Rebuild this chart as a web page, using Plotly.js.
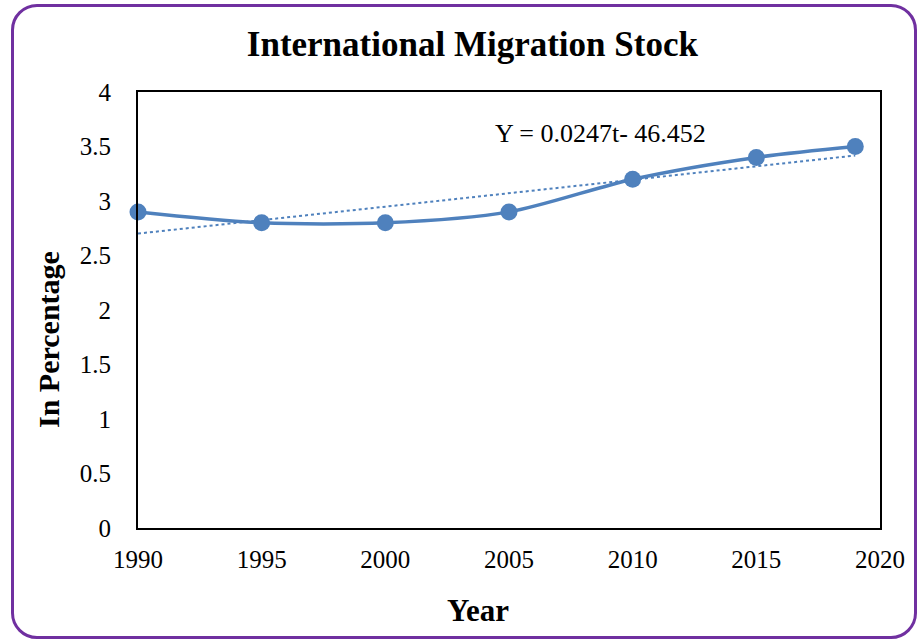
<!DOCTYPE html>
<html>
<head>
<meta charset="utf-8">
<script src="https://cdn.plot.ly/plotly-3.0.1.min.js"></script>
<style>
html,body{margin:0;padding:0;background:#fff;}
#wrap{position:relative;width:919px;height:640px;}
#chart{position:absolute;left:0;top:0;width:919px;height:640px;}
#frame{position:absolute;left:11px;top:4px;width:900px;height:629px;border:3px solid #7030A0;border-radius:26px;pointer-events:none;}
</style>
</head>
<body>
<div id="wrap"><div id="chart"></div><div id="frame"></div></div>
<script>
const years = [1990, 1995, 2000, 2005, 2010, 2015, 2019];
const stock = [2.9, 2.8, 2.8, 2.9, 3.2, 3.4, 3.5];
const slope = 0.0247;
const intercept = -46.452;
const trendYears = [1990, 2019];
const trendVals = trendYears.map(t => slope * t + intercept);
const xTicks = [1990, 1995, 2000, 2005, 2010, 2015, 2020];
const yTicks = [0, 0.5, 1, 1.5, 2, 2.5, 3, 3.5, 4];

const serif = "Liberation Serif, Times New Roman, serif";
const blue = "#4F81BD";

const traces = [
  {x: trendYears, y: trendVals, mode: "lines", line: {color: blue, width: 2, dash: "dot"}, hoverinfo: "skip", cliponaxis: false},
  {x: years, y: stock, mode: "lines+markers", line: {color: blue, width: 3.5, shape: "spline", smoothing: 0.8},
   marker: {color: blue, size: 17}, cliponaxis: false}
];

const layout = {
  width: 919, height: 640,
  margin: {l: 138, r: 39, t: 92, b: 112},
  paper_bgcolor: "rgba(0,0,0,0)", plot_bgcolor: "#fff",
  showlegend: false,
  font: {family: serif, color: "#000", size: 25},
  title: {text: "<b>International Migration Stock</b>", font: {family: serif, size: 35, color: "#000"}, x: 0.514, xanchor: "center", y: 0.932, yanchor: "middle"},
  xaxis: {range: [1990, 2020], tickvals: xTicks, ticktext: xTicks.map(String), showgrid: false, zeroline: false,
    showline: true, linecolor: "#000", linewidth: 2, mirror: true, ticks: "outside", ticklen: 8, tickcolor: "rgba(0,0,0,0)",
    tickfont: {family: serif, size: 25}},
  yaxis: {range: [0, 4], tickvals: yTicks, ticktext: yTicks.map(String), showgrid: false, zeroline: false,
    showline: true, linecolor: "#000", linewidth: 2, mirror: true, ticks: "outside", ticklen: 20, tickcolor: "rgba(0,0,0,0)",
    tickfont: {family: serif, size: 25}},
  annotations: [
    {x: 2008.7, y: 3.62, xref: "x", yref: "y", text: "Y = 0.0247t- 46.452", showarrow: false,
     font: {family: serif, size: 26, color: "#000"}, xanchor: "center", yanchor: "middle"},
    {x: (478 - 138) / 742, y: -(610 - 528) / 436, xref: "paper", yref: "paper", text: "<b>Year</b>", showarrow: false,
     font: {family: serif, size: 31, color: "#000"}, xanchor: "center", yanchor: "middle"},
    {x: (48 - 138) / 742, y: (528 - 340) / 436, xref: "paper", yref: "paper", text: "<b>In Percentage</b>", showarrow: false,
     textangle: -90, font: {family: serif, size: 30, color: "#000"}, xanchor: "center", yanchor: "middle"}
  ]
};

Plotly.newPlot("chart", traces, layout, {displayModeBar: false, staticPlot: true});
</script>
</body>
</html>
